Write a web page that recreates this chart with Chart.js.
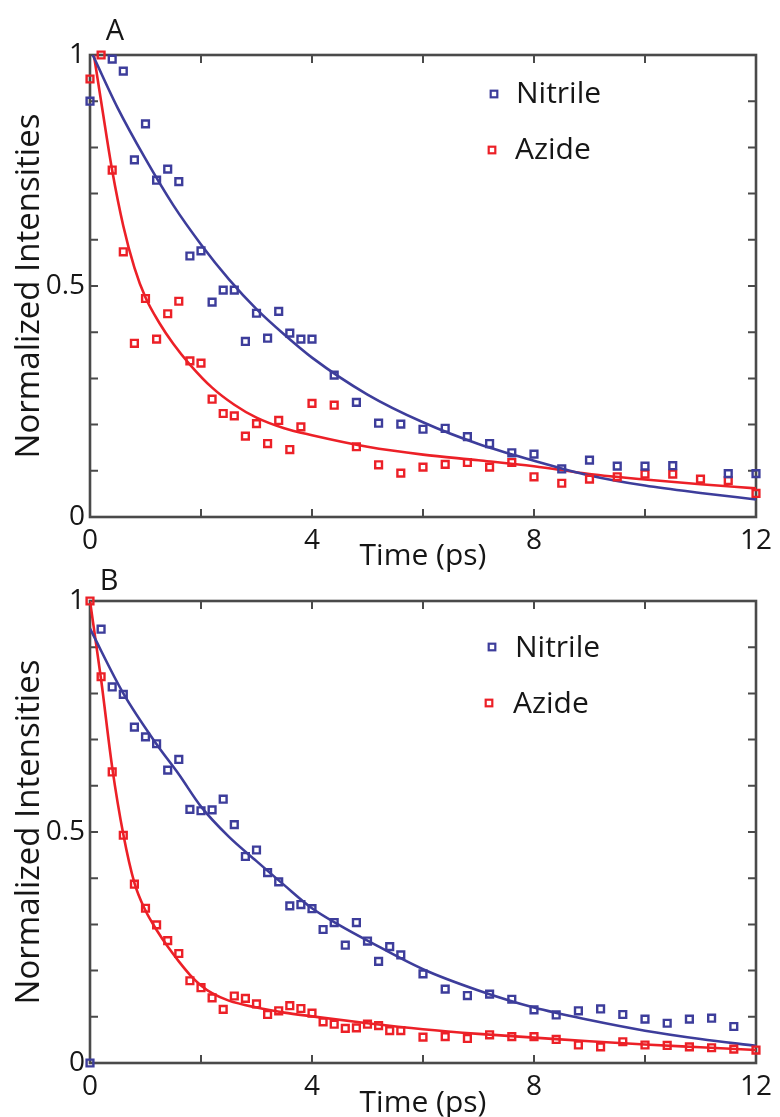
<!DOCTYPE html>
<html><head><meta charset="utf-8">
<script src="https://cdn.jsdelivr.net/npm/chart.js@4.4.1/dist/chart.umd.min.js"></script>
<style>
html,body{margin:0;padding:0;background:#fff;overflow:hidden;}
#wrap{position:relative;width:780px;height:1117px;overflow:hidden;background:#fff;}
canvas{position:absolute;left:0;}
#cA{top:0;} #cB{top:560px;}
</style></head><body>
<div id="wrap"><canvas id="cA" width="780" height="580"></canvas><canvas id="cB" width="780" height="570"></canvas></div>
<script>
// ---------- data ----------
const seriesNames = ['Nitrile', 'Azide'];
const panelNames = ['A', 'B'];
const xTickValues = [0, 2, 4, 6, 8, 10, 12];
const xTickLabels = ['0', '', '4', '', '8', '', '12'];
const yTickValues = [0, 0.1, 0.2, 0.3, 0.4, 0.5, 0.6, 0.7, 0.8, 0.9, 1];
const yTickLabels = ['0', '', '', '', '', '0.5', '', '', '', '', '1'];

// Panel A - measured points
const aNitrileT = [0,0.4,0.6,0.8,1.0,1.2,1.4,1.6,1.8,2.0,2.2,2.4,2.6,2.8,3.0,3.2,3.4,3.6,3.8,4.0,4.4,4.8,5.2,5.6,6.0,6.4,6.8,7.2,7.6,8.0,8.5,9.0,9.5,10.0,10.5,11.5,12.0];
const aNitrileV = [0.900,0.991,0.965,0.773,0.851,0.729,0.753,0.726,0.565,0.576,0.465,0.491,0.491,0.380,0.441,0.387,0.445,0.398,0.385,0.385,0.307,0.248,0.203,0.201,0.190,0.192,0.174,0.159,0.139,0.136,0.104,0.123,0.110,0.110,0.111,0.094,0.094];
const aAzideT = [0,0.2,0.4,0.6,0.8,1.0,1.2,1.4,1.6,1.8,2.0,2.2,2.4,2.6,2.8,3.0,3.2,3.4,3.6,3.8,4.0,4.4,4.8,5.2,5.6,6.0,6.4,6.8,7.2,7.6,8.0,8.5,9.0,9.5,10.0,10.5,11.0,11.5,12.0];
const aAzideV = [0.948,1.0,0.751,0.574,0.376,0.473,0.385,0.440,0.467,0.338,0.333,0.255,0.224,0.219,0.175,0.202,0.159,0.209,0.146,0.195,0.246,0.242,0.152,0.113,0.095,0.108,0.114,0.118,0.108,0.118,0.087,0.073,0.082,0.087,0.093,0.093,0.082,0.079,0.051];
// Panel A - fitted curves
const aNitrileFitT = [0.05,0.5,1,1.5,2,2.5,3,3.5,4,5,6,7,8,9,10,11,12];
const aNitrileFitV = [1.0,0.885,0.775,0.675,0.59,0.515,0.45,0.395,0.345,0.265,0.205,0.158,0.122,0.09,0.068,0.052,0.038];
const aAzideFitT = [0.07,0.2,0.4,0.6,0.8,1.0,1.25,1.5,1.8,2.2,2.6,3.0,3.5,4.0,5.0,6.0,7.0,8.0,9.0,10,11,12];
const aAzideFitV = [1.0,0.9,0.75,0.63,0.54,0.475,0.42,0.375,0.33,0.28,0.243,0.215,0.192,0.177,0.152,0.135,0.123,0.11,0.093,0.081,0.071,0.062];

// Panel B - measured points
const bNitrileT = [0,0.2,0.4,0.6,0.8,1.0,1.2,1.4,1.6,1.8,2.0,2.2,2.4,2.6,2.8,3.0,3.2,3.4,3.6,3.8,4.0,4.2,4.4,4.6,4.8,5.0,5.2,5.4,5.6,6.0,6.4,6.8,7.2,7.6,8.0,8.4,8.8,9.2,9.6,10.0,10.4,10.8,11.2,11.6];
const bNitrileV = [0,0.939,0.814,0.798,0.727,0.706,0.691,0.634,0.657,0.549,0.546,0.548,0.571,0.516,0.447,0.461,0.412,0.392,0.340,0.343,0.334,0.289,0.304,0.255,0.304,0.264,0.220,0.252,0.234,0.193,0.160,0.146,0.149,0.138,0.115,0.104,0.113,0.117,0.105,0.095,0.086,0.095,0.097,0.079];
const bAzideT = [0,0.2,0.4,0.6,0.8,1.0,1.2,1.4,1.6,1.8,2.0,2.2,2.4,2.6,2.8,3.0,3.2,3.4,3.6,3.8,4.0,4.2,4.4,4.6,4.8,5.0,5.2,5.4,5.6,6.0,6.4,6.8,7.2,7.6,8.0,8.4,8.8,9.2,9.6,10.0,10.4,10.8,11.2,11.6,12.0];
const bAzideV = [1.0,0.836,0.630,0.493,0.387,0.335,0.299,0.265,0.237,0.178,0.163,0.141,0.116,0.145,0.140,0.128,0.105,0.113,0.124,0.118,0.108,0.089,0.084,0.075,0.076,0.084,0.081,0.070,0.070,0.056,0.057,0.053,0.061,0.057,0.057,0.051,0.039,0.035,0.046,0.039,0.038,0.035,0.033,0.030,0.028];
// Panel B - fitted curves
const bNitrileFitT = [0,0.6,1.2,1.6,2.0,2.5,3.0,3.5,4.0,4.5,5.0,6.0,7.0,8.0,9.0,10,11,12];
const bNitrileFitV = [0.94,0.80,0.69,0.625,0.555,0.49,0.437,0.385,0.335,0.298,0.265,0.203,0.157,0.12,0.093,0.07,0.052,0.037];
const bAzideFitT = [0,0.2,0.4,0.6,0.8,1.0,1.2,1.4,1.6,1.8,2.0,2.2,2.5,3.0,3.5,4.0,5.0,6.0,7.0,8.0,9.0,10,11,12];
const bAzideFitV = [1.0,0.83,0.64,0.495,0.39,0.33,0.288,0.252,0.22,0.191,0.168,0.151,0.135,0.12,0.109,0.101,0.086,0.073,0.063,0.055,0.047,0.04,0.034,0.028];

// ---------- styling ----------
const BLUE = '#3d3d9b', RED = '#ec2027', INK = '#161616', FRAME = '#4a4a4a';
const FONT = "'Open Sans', 'Noto Sans', sans-serif";

function pts(ts, vs) { return ts.map((t, i) => ({ x: t, y: vs[i] })); }

const decorPlugin = {
  id: 'decor',
  beforeDatasetsDraw(chart) {
    const ctx = chart.ctx, ca = chart.chartArea;
    const xs = chart.scales.x, ys = chart.scales.y;
    ctx.save();
    ctx.strokeStyle = FRAME;
    ctx.lineWidth = 2;
    const tl = 8;
    ctx.beginPath();
    xs.ticks.forEach(t => {
      const px = xs.getPixelForValue(t.value);
      ctx.moveTo(px, ca.bottom); ctx.lineTo(px, ca.bottom - tl);
      ctx.moveTo(px, ca.top); ctx.lineTo(px, ca.top + tl);
    });
    ys.ticks.forEach(t => {
      const py = ys.getPixelForValue(t.value);
      ctx.moveTo(ca.left, py); ctx.lineTo(ca.left + tl, py);
      ctx.moveTo(ca.right, py); ctx.lineTo(ca.right - tl, py);
    });
    ctx.stroke();
    ctx.lineWidth = 2.6;
    ctx.strokeRect(ca.left, ca.top, ca.right - ca.left, ca.bottom - ca.top);
    ctx.restore();
  },
  afterDraw(chart, args, o) {
    const ctx = chart.ctx, ca = chart.chartArea;
    ctx.save();
    ctx.fillStyle = INK;
    ctx.textBaseline = 'alphabetic';
    ctx.textAlign = 'center';
    ctx.font = `29px ${FONT}`;
    ctx.fillText(o.panel, o.panelX, o.panelY);
    ctx.textAlign = 'left';
    ctx.font = `30px ${FONT}`;
    o.items.forEach(it => {
      const ds = chart.data.datasets[it.ds];
      ctx.strokeStyle = ds.borderColor;
      ctx.lineWidth = 2.2;
      ctx.strokeRect(it.mx - 3.3, ca.top + it.my - 3.3, 6.6, 6.6);
      ctx.fillStyle = INK;
      ctx.fillText(ds.label, it.tx, ca.top + it.ty);
    });
    ctx.restore();
  }
};

function makeChart(id, canvasH, top, bottom, data, decor, titlePad) {
  const [nT, nV, zT, zV, nFT, nFV, zFT, zFV] = data;
  const lineDs = (label, t, v, c) => ({
    type: 'line', label, data: pts(t, v), borderColor: c, borderWidth: 2.6,
    pointRadius: 0, cubicInterpolationMode: 'monotone', fill: false, order: 2
  });
  const pointDs = (label, t, v, c) => ({
    type: 'scatter', label, data: pts(t, v), borderColor: c, backgroundColor: 'rgba(0,0,0,0)',
    pointStyle: 'rect', pointRadius: 4.8, pointBorderWidth: 2.4, showLine: false, clip: false, order: 1
  });
  return new Chart(document.getElementById(id), {
    type: 'scatter',
    data: {
      datasets: [
        pointDs(seriesNames[0], nT, nV, BLUE),
        pointDs(seriesNames[1], zT, zV, RED),
        lineDs(seriesNames[0] + ' fit', nFT, nFV, BLUE),
        lineDs(seriesNames[1] + ' fit', zFT, zFV, RED)
      ]
    },
    plugins: [decorPlugin],
    options: {
      responsive: false, animation: false, devicePixelRatio: 1,
      layout: { padding: { top: top, right: 24, left: 0, bottom: 0 } },
      plugins: { legend: { display: false }, tooltip: { enabled: false }, decor: decor },
      scales: {
        x: {
          type: 'linear', min: 0, max: 12,
          afterBuildTicks: s => { s.ticks = xTickValues.map(v => ({ value: v })); },
          afterFit: s => { s.height = canvasH - bottom; },
          grid: { display: false, drawTicks: false },
          border: { display: false },
          ticks: {
            padding: 7, color: INK, font: { family: FONT, size: 28 }, maxRotation: 0, autoSkip: false,
            callback: (v, i) => xTickLabels[xTickValues.indexOf(v)] ?? ''
          },
          title: { display: true, text: 'Time (ps)', color: INK, font: { family: FONT, size: 30 }, padding: { top: 0, bottom: titlePad } }
        },
        y: {
          type: 'linear', min: 0, max: 1,
          afterBuildTicks: s => { s.ticks = yTickValues.map(v => ({ value: v })); },
          afterFit: s => { s.width = 90; },
          grid: { display: false, drawTicks: false },
          border: { display: false },
          ticks: {
            padding: 5, color: INK, font: { family: FONT, size: 28 }, autoSkip: false,
            callback: (v) => {
              const i = yTickValues.findIndex(a => Math.abs(a - v) < 1e-6);
              return i >= 0 ? yTickLabels[i] : '';
            }
          },
          title: { display: true, text: 'Normalized Intensities', color: INK, font: { family: FONT, size: 33 }, padding: { top: 10, bottom: 0 } }
        }
      }
    }
  });
}

makeChart('cA', 580, 55, 517,
  [aNitrileT, aNitrileV, aAzideT, aAzideV, aNitrileFitT, aNitrileFitV, aAzideFitT, aAzideFitV],
  { panel: panelNames[0], panelX: 115, panelY: 40,
    items: [ { ds: 0, mx: 494, my: 39, tx: 516, ty: 48 }, { ds: 1, mx: 492, my: 95, tx: 515, ty: 104 } ] },
  6);

makeChart('cB', 570, 41, 503,
  [bNitrileT, bNitrileV, bAzideT, bAzideV, bNitrileFitT, bNitrileFitV, bAzideFitT, bAzideFitV],
  { panel: panelNames[1], panelX: 109, panelY: 30,
    items: [ { ds: 0, mx: 492, my: 46, tx: 515, ty: 56 }, { ds: 1, mx: 489, my: 102, tx: 513, ty: 112 } ] },
  9);
</script>
</body></html>
